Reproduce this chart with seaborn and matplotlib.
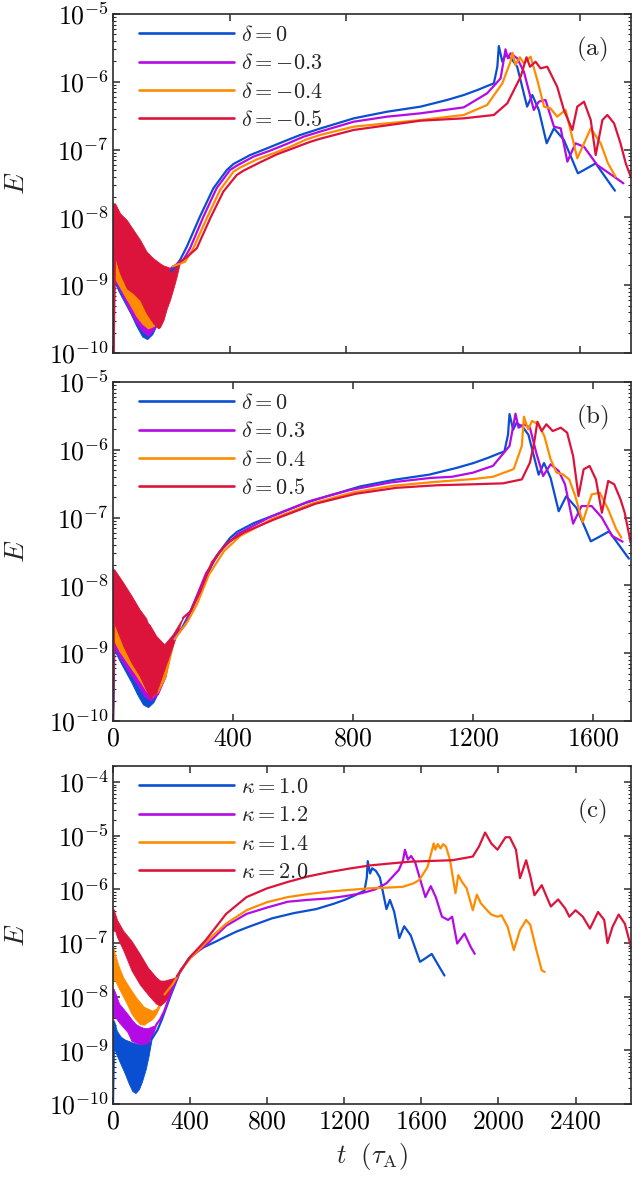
import numpy as np
import pandas as pd
import matplotlib
matplotlib.use("Agg")
import matplotlib.pyplot as plt
import seaborn as sns
from matplotlib.ticker import FixedLocator, FuncFormatter, LogLocator, NullFormatter

# ---------------- data ----------------
# shared reference case  (delta = 0, kappa = 1.0)
t_ref_band = [0, 5, 20, 40, 60, 80, 100, 117, 135, 150, 170, 185, 200]
hi_ref_band = [3.6e-9, 3.6e-9, 2.3e-9, 1.8e-9, 1.6e-9, 1.5e-9, 1.4e-9, 1.35e-9, 1.3e-9, 1.3e-9, 1.35e-9, 1.45e-9, 1.6e-9]
lo_ref_band = [5e-11, 1.1e-9, 8e-10, 5.5e-10, 3.8e-10, 2.5e-10, 1.75e-10, 1.6e-10, 1.9e-10, 2.6e-10, 4.5e-10, 8e-10, 1.6e-9]
t_ref = [200, 230, 253, 298, 344, 390, 413, 470, 527, 584, 641, 711, 825, 939, 1054, 1145, 1202, 1250, 1282, 1305,
         1317, 1322, 1334, 1345, 1365, 1385, 1419, 1437, 1459, 1486, 1511, 1545, 1593, 1614, 1654, 1694, 1720]
E_ref = [1.6e-9, 2.36e-9, 3.7e-9, 1.03e-8, 2.69e-8, 5.0e-8, 6.14e-8, 8.32e-8, 1.04e-7, 1.31e-7, 1.64e-7, 2.05e-7,
         2.89e-7, 3.62e-7, 4.30e-7, 5.40e-7, 6.38e-7, 7.6e-7, 8.67e-7, 9.48e-7, 1.67e-6, 3.37e-6, 1.98e-6, 2.48e-6,
         2.2e-6, 1.67e-6, 4.30e-7, 6.38e-7, 3.84e-7, 1.24e-7, 2.06e-7, 1.39e-7, 4.47e-8, 5.0e-8, 6.27e-8, 3.56e-8,
         2.48e-8]

# panel (a): delta = -0.3, -0.4, -0.5
t_am3_band = [0, 5, 20, 40, 60, 80, 100, 120, 140, 160, 180, 200]
hi_am3_band = [2.95e-9, 2.95e-9, 2.5e-9, 2.2e-9, 2.0e-9, 1.9e-9, 1.8e-9, 1.7e-9, 1.7e-9, 1.7e-9, 1.75e-9, 1.8e-9]
lo_am3_band = [1.2e-9, 1.2e-9, 9e-10, 6e-10, 4e-10, 2.8e-10, 2.1e-10, 1.8e-10, 2.2e-10, 4e-10, 8e-10, 1.8e-9]
t_am3 = [200, 241, 264, 310, 355, 401, 424, 481, 538, 595, 653, 711, 825, 939, 1054, 1202, 1282, 1328, 1339, 1345,
         1353, 1362, 1385, 1408, 1442, 1459, 1482, 1511, 1534, 1557, 1585, 1614, 1659, 1717, 1749]
E_am3 = [1.8e-9, 2.36e-9, 3.5e-9, 1.03e-8, 2.69e-8, 5.0e-8, 5.79e-8, 7.87e-8, 9.64e-8, 1.21e-7, 1.55e-7, 1.85e-7,
         2.58e-7, 3.06e-7, 3.43e-7, 4.20e-7, 6.76e-7, 1.12e-6, 2.10e-6, 3.01e-6, 2.22e-6, 2.63e-6, 2.22e-6, 1.41e-6,
         3.84e-7, 5.09e-7, 5.40e-7, 2.18e-7, 2.06e-7, 6.64e-8, 1.24e-7, 1.10e-7, 5.93e-8, 3.99e-8, 3.18e-8]

t_am4_band = [0, 5, 20, 40, 60, 80, 100, 120, 140, 160, 180, 205]
hi_am4_band = [2.5e-9, 2.5e-9, 2.2e-9, 2.0e-9, 1.9e-9, 1.8e-9, 1.7e-9, 1.6e-9, 1.6e-9, 1.6e-9, 1.7e-9, 1.9e-9]
lo_am4_band = [1.3e-9, 1.3e-9, 1.0e-9, 7e-10, 5e-10, 3.5e-10, 2.7e-10, 2.3e-10, 2.5e-10, 4.5e-10, 9e-10, 1.9e-9]
t_am4 = [205, 247, 275, 321, 367, 413, 435, 493, 550, 607, 664, 711, 825, 1054, 1202, 1282, 1334, 1362, 1369, 1379,
         1394, 1408, 1431, 1454, 1477, 1499, 1522, 1551, 1591, 1637, 1671, 1696, 1722]
E_am4 = [1.9e-9, 2.22e-9, 3.5e-9, 9.68e-9, 2.54e-8, 4.73e-8, 5.42e-8, 7.18e-8, 8.81e-8, 1.10e-7, 1.42e-7, 1.65e-7,
         2.18e-7, 2.73e-7, 3.24e-7, 4.55e-7, 9.48e-7, 1.98e-6, 2.69e-6, 1.77e-6, 2.30e-6, 1.87e-6, 2.35e-6, 1.06e-6,
         4.30e-7, 4.06e-7, 3.06e-7, 3.84e-7, 7.43e-8, 2.06e-7, 1.24e-7, 6.27e-8, 3.99e-8]

t_am5_band = [0, 2, 7, 24, 47, 70, 93, 115, 138, 155, 161, 173, 184, 195, 207, 218, 230]
hi_am5_band = [1.61e-8, 1.61e-8, 1.61e-8, 1.15e-8, 9.16e-9, 6.52e-9, 4.65e-9, 3.13e-9, 2.49e-9, 2.2e-9, 2.1e-9,
               1.95e-9, 1.88e-9, 1.8e-9, 1.77e-9, 2.0e-9, 2.22e-9]
lo_am5_band = [5e-11, 5e-11, 2.6e-9, 1.5e-9, 9e-10, 7.6e-10, 6.05e-10, 3.85e-10, 2.74e-10, 2.31e-10, 2.4e-10,
               3.07e-10, 4.5e-10, 6.05e-10, 9e-10, 1.34e-9, 2.22e-9]
t_am5 = [230, 253, 287, 333, 378, 424, 447, 504, 561, 618, 675, 711, 825, 1054, 1202, 1305, 1351, 1397, 1417, 1429,
         1448, 1465, 1488, 1522, 1545, 1574, 1591, 1614, 1637, 1654, 1677, 1694, 1717, 1739, 1757, 1774]
E_am5 = [2.22e-9, 2.6e-9, 3.5e-9, 9.68e-9, 2.40e-8, 4.22e-8, 4.89e-8, 6.49e-8, 8.5e-8, 1.05e-7, 1.3e-7, 1.45e-7,
         1.95e-7, 2.67e-7, 2.89e-7, 3.24e-7, 4.81e-7, 1.19e-6, 2.30e-6, 1.67e-6, 1.98e-6, 1.58e-6, 1.67e-6, 8.47e-7,
         3.84e-7, 1.95e-7, 4.30e-7, 5.09e-7, 2.73e-7, 8.32e-8, 2.73e-7, 3.24e-7, 2.44e-7, 1.24e-7, 6.27e-8, 3.99e-8]

# panel (b): delta = 0.3, 0.4, 0.5
t_bp3_band = [0, 5, 20, 50, 80, 105, 125, 150, 175, 200]
hi_bp3_band = [2.8e-9, 2.8e-9, 2.2e-9, 1.8e-9, 1.5e-9, 1.4e-9, 1.35e-9, 1.3e-9, 1.35e-9, 1.6e-9]
lo_bp3_band = [1.2e-9, 1.2e-9, 9e-10, 5.5e-10, 3.5e-10, 2.3e-10, 2.0e-10, 2.5e-10, 4.5e-10, 1.6e-9]
t_bp3 = [200, 240, 270, 310, 360, 415, 520, 655, 790, 925, 1060, 1130, 1200, 1267, 1322, 1342, 1352, 1370, 1390,
         1411, 1434, 1459, 1486, 1507, 1534, 1562, 1596, 1630, 1664, 1699]
E_bp3 = [1.6e-9, 2.6e-9, 5.5e-9, 1.5e-8, 3.3e-8, 5.7e-8, 1.0e-7, 1.75e-7, 2.55e-7, 3.3e-7, 3.85e-7, 4.0e-7, 4.6e-7,
         5.8e-7, 1.14e-6, 3.41e-6, 2.12e-6, 2.38e-6, 2.12e-6, 9.08e-7, 4.11e-7, 6.11e-7, 4.86e-7, 3.1e-7, 8.15e-8,
         1.48e-7, 1.48e-7, 9.98e-8, 5.36e-8, 4.42e-8]

t_bp4_band = [0, 5, 20, 50, 80, 110, 130, 150, 175, 205]
hi_bp4_band = [4.5e-9, 4.5e-9, 3.5e-9, 2.6e-9, 2.0e-9, 1.6e-9, 1.45e-9, 1.4e-9, 1.35e-9, 1.6e-9]
lo_bp4_band = [1.5e-9, 1.5e-9, 1.1e-9, 7e-10, 4.5e-10, 2.8e-10, 2.3e-10, 2.7e-10, 4.5e-10, 1.6e-9]
t_bp4 = [205, 250, 280, 320, 370, 425, 530, 665, 800, 935, 1070, 1200, 1267, 1336, 1363, 1370, 1384, 1397, 1418,
         1438, 1459, 1479, 1500, 1521, 1541, 1566, 1596, 1623, 1651, 1678, 1695]
E_bp4 = [1.6e-9, 3.0e-9, 5.3e-9, 1.45e-8, 3.2e-8, 5.4e-8, 9.5e-8, 1.62e-7, 2.35e-7, 2.95e-7, 3.35e-7, 3.7e-7, 4.0e-7,
         5.2e-7, 1.14e-6, 3.08e-6, 2.0e-6, 2.66e-6, 2.38e-6, 1.6e-6, 7.23e-7, 4.6e-7, 4.35e-7, 3.66e-7, 2.08e-7,
         8.6e-8, 2.2e-7, 2.33e-7, 1.32e-7, 6.71e-8, 5.06e-8]

t_bp5_band = [0, 4, 34, 62, 89, 110, 116, 123, 144, 171, 199, 226, 233]
hi_bp5_band = [1.73e-8, 1.73e-8, 1.1e-8, 7.0e-9, 4.4e-9, 3.3e-9, 2.8e-9, 2.6e-9, 1.8e-9, 1.35e-9, 1.9e-9, 3.0e-9, 3.3e-9]
lo_bp5_band = [5e-11, 2.8e-9, 1.28e-9, 7.2e-10, 4.6e-10, 2.9e-10, 2.6e-10, 2.2e-10, 2.6e-10, 5.8e-10, 1.28e-9, 2.8e-9, 3.3e-9]
t_bp5 = [233, 260, 290, 330, 380, 435, 540, 675, 810, 945, 1080, 1200, 1300, 1363, 1390, 1404, 1415, 1429, 1445,
         1466, 1493, 1514, 1534, 1552, 1569, 1589, 1610, 1630, 1651, 1671, 1692, 1706, 1726]
E_bp5 = [3.3e-9, 4.2e-9, 8.0e-9, 2.2e-8, 4.2e-8, 6.0e-8, 9.5e-8, 1.6e-7, 2.25e-7, 2.75e-7, 3.0e-7, 3.1e-7, 3.2e-7,
         3.66e-7, 6.46e-7, 1.27e-6, 2.6e-6, 1.89e-6, 2.38e-6, 1.89e-6, 2.12e-6, 1.79e-6, 8.1e-7, 2.08e-7, 5.15e-7,
         5.77e-7, 3.66e-7, 1.18e-7, 3.47e-7, 3.1e-7, 1.86e-7, 1.18e-7, 4.27e-8]

# panel (c): kappa = 1.2, 1.4, 2.0
t_k12_band = [0, 3, 11, 32, 53, 75, 96, 117, 139, 160, 181, 203, 224]
hi_k12_band = [1.41e-8, 1.41e-8, 1.2e-8, 7.4e-9, 6e-9, 4.8e-9, 3.8e-9, 3.1e-9, 2.8e-9, 2.6e-9, 2.6e-9, 2.8e-9, 3.0e-9]
lo_k12_band = [4.2e-9, 4.2e-9, 4.2e-9, 3.3e-9, 2.7e-9, 2.2e-9, 1.5e-9, 1.4e-9, 1.3e-9, 1.3e-9, 1.4e-9, 1.8e-9, 3.0e-9]
t_k12 = [224, 245, 267, 309, 352, 400, 445, 500, 587, 693, 800, 907, 1013, 1120, 1205, 1291, 1360, 1419, 1483, 1505,
         1515, 1530, 1547, 1568, 1600, 1621, 1649, 1675, 1707, 1739, 1760, 1786, 1824, 1856, 1877]
E_k12 = [3.0e-9, 3.8e-9, 5.5e-9, 1.45e-8, 3.2e-8, 5.3e-8, 7.2e-8, 1.05e-7, 2.1e-7, 3.5e-7, 4.6e-7, 5.9e-7, 6.4e-7,
         6.8e-7, 7.5e-7, 8.5e-7, 1.0e-6, 1.3e-6, 2.3e-6, 3.5e-6, 5.5e-6, 3.6e-6, 4.2e-6, 3.2e-6, 1.3e-6, 7.2e-7,
         1.15e-6, 7.2e-7, 3.1e-7, 2.7e-7, 3.1e-7, 9.8e-8, 1.5e-7, 8.5e-8, 6.3e-8]

t_k14_band = [0, 3, 11, 32, 53, 75, 96, 117, 139, 160, 181, 203, 224, 245, 267]
hi_k14_band = [7.9e-8, 7.9e-8, 6e-8, 3.5e-8, 2.3e-8, 1.7e-8, 1.3e-8, 1.0e-8, 8e-9, 6.5e-9, 6e-9, 5.5e-9, 6e-9, 8e-9, 1.1e-8]
lo_k14_band = [2.0e-8, 2.0e-8, 2.0e-8, 1.4e-8, 1.0e-8, 7e-9, 4.8e-9, 3.8e-9, 3.1e-9, 3.0e-9, 3.4e-9, 3.8e-9, 4.8e-9, 7e-9, 1.1e-8]
t_k14 = [267, 309, 352, 400, 437, 500, 587, 693, 800, 907, 1013, 1120, 1227, 1333, 1420, 1504, 1560, 1589, 1632,
         1664, 1672, 1685, 1700, 1713, 1728, 1749, 1777, 1792, 1810, 1835, 1867, 1888, 1909, 1941, 1963, 1995,
         2016, 2048, 2080, 2112, 2144, 2165, 2197, 2225, 2240]
E_k14 = [1.1e-8, 1.7e-8, 3.1e-8, 5.2e-8, 7.0e-8, 1.2e-7, 2.3e-7, 4.1e-7, 5.8e-7, 7.2e-7, 8.2e-7, 9.1e-7, 9.8e-7,
         1.05e-6, 1.08e-6, 1.12e-6, 1.3e-6, 1.5e-6, 2.6e-6, 7.2e-6, 5.5e-6, 7.0e-6, 5.8e-6, 7.0e-6, 6.3e-6, 3.5e-6,
         8.5e-7, 1.85e-6, 1.4e-6, 1.05e-6, 4.1e-7, 8.0e-7, 5.5e-7, 4.1e-7, 3.4e-7, 3.1e-7, 3.3e-7, 2.0e-7, 7.4e-8,
         1.75e-7, 2.7e-7, 2.2e-7, 7.4e-8, 3.1e-8, 2.9e-8]

t_k20_band = [0, 3, 11, 21, 53, 96, 139, 181, 224, 245, 267, 288, 309, 331]
hi_k20_band = [4.3e-7, 4.3e-7, 3.5e-7, 2.7e-7, 1.7e-7, 1.1e-7, 6.3e-8, 3.5e-8, 2.3e-8, 2.0e-8, 2.0e-8, 2.1e-8, 2.2e-8, 2.4e-8]
lo_k20_band = [1.7e-7, 1.7e-7, 1.7e-7, 1.3e-7, 7.4e-8, 3.1e-8, 1.7e-8, 1.1e-8, 7.4e-9, 6.9e-9, 8e-9, 1.0e-8, 1.7e-8, 2.4e-8]
t_k20 = [331, 400, 480, 587, 693, 800, 907, 1013, 1120, 1227, 1333, 1440, 1547, 1653, 1760, 1867, 1899, 1931, 1963,
         1995, 2037, 2059, 2091, 2112, 2144, 2165, 2187, 2225, 2251, 2272, 2310, 2347, 2368, 2400, 2438, 2475, 2517,
         2549, 2566, 2592, 2624, 2656, 2688]
E_k20 = [2.4e-8, 5.5e-8, 1.12e-7, 3.5e-7, 7.2e-7, 1.05e-6, 1.38e-6, 1.75e-6, 2.1e-6, 2.45e-6, 2.8e-6, 3.05e-6,
         3.3e-6, 3.4e-6, 3.5e-6, 4.1e-6, 6.3e-6, 1.15e-5, 7.2e-6, 5.5e-6, 9.4e-6, 9.4e-6, 5.5e-6, 1.62e-6, 3.5e-6,
         1.8e-6, 7.8e-7, 1.2e-6, 7.2e-7, 4.8e-7, 6.5e-7, 4.4e-7, 3.1e-7, 4.1e-7, 3.1e-7, 1.86e-7, 3.8e-7, 2.7e-7,
         1.0e-7, 2.0e-7, 3.4e-7, 2.3e-7, 8.5e-8]

labels_a = [r"$\delta=0$", r"$\delta=-0.3$", r"$\delta=-0.4$", r"$\delta=-0.5$"]
labels_b = [r"$\delta=0$", r"$\delta=0.3$", r"$\delta=0.4$", r"$\delta=0.5$"]
labels_c = [r"$\kappa=1.0$", r"$\kappa=1.2$", r"$\kappa=1.4$", r"$\kappa=2.0$"]
panel_tags = ["(a)", "(b)", "(c)"]
x_ticks_ab = [0, 400, 800, 1200, 1600]
x_ticks_c = [0, 400, 800, 1200, 1600, 2000, 2400]

colors = ["#0a4fd2", "#b40ae6", "#ff8c00", "#dc143c"]

# ---------------- style ----------------
sns.set_theme(style="ticks")
plt.rcParams["mathtext.fontset"] = "cm"
plt.rcParams["font.family"] = ["DejaVu Serif"]
plt.rcParams["axes.edgecolor"] = "#2b2b2b"
plt.rcParams["axes.linewidth"] = 1.2

fig = plt.figure(figsize=(6.44, 11.81), dpi=100)
L, W = 113 / 644, 518 / 644
ax_a = fig.add_axes([L, 1 - 353 / 1181, W, 339 / 1181])
ax_b = fig.add_axes([L, 1 - 721 / 1181, W, 339 / 1181])
ax_c = fig.add_axes([L, 1 - 1104 / 1181, W, 338 / 1181])

panels = [
    (ax_a, labels_a, [
        (t_ref_band, lo_ref_band, hi_ref_band, t_ref, E_ref),
        (t_am3_band, lo_am3_band, hi_am3_band, t_am3, E_am3),
        (t_am4_band, lo_am4_band, hi_am4_band, t_am4, E_am4),
        (t_am5_band, lo_am5_band, hi_am5_band, t_am5, E_am5)], 1775, (1e-10, 1e-5), x_ticks_ab),
    (ax_b, labels_b, [
        (t_ref_band, lo_ref_band, hi_ref_band, t_ref, E_ref),
        (t_bp3_band, lo_bp3_band, hi_bp3_band, t_bp3, E_bp3),
        (t_bp4_band, lo_bp4_band, hi_bp4_band, t_bp4, E_bp4),
        (t_bp5_band, lo_bp5_band, hi_bp5_band, t_bp5, E_bp5)], 1727, (1e-10, 1e-5), x_ticks_ab),
    (ax_c, labels_c, [
        (t_ref_band, lo_ref_band, hi_ref_band, t_ref, E_ref),
        (t_k12_band, lo_k12_band, hi_k12_band, t_k12, E_k12),
        (t_k14_band, lo_k14_band, hi_k14_band, t_k14, E_k14),
        (t_k20_band, lo_k20_band, hi_k20_band, t_k20, E_k20)], 2688, (1e-10, 2e-4), x_ticks_c),
]

ytick_fmt = FuncFormatter(lambda v, p: r"$10^{%d}$" % int(round(np.log10(v))))
xtick_fmt = FuncFormatter(lambda v, p: r"$%d$" % int(v))

for i, (ax, labels, series, xmax, ylim, xt) in enumerate(panels):
    for (tb, lo, hi, tl, El), lab, col in zip(series, labels, colors):
        ax.fill_between(tb, lo, hi, color=col, lw=0.6, edgecolor=col)
        df = pd.DataFrame({"t": tl, "E": El})
        sns.lineplot(data=df, x="t", y="E", ax=ax, color=col, lw=1.6, sort=False,
                     estimator=None, label=lab)
    ax.set_yscale("log")
    ax.set_xlim(0, xmax)
    ax.set_ylim(*ylim)
    dec = np.arange(int(np.log10(ylim[0])), int(np.floor(np.log10(ylim[1]))) + 1)
    ax.yaxis.set_major_locator(FixedLocator([10.0 ** d for d in dec]))
    ax.yaxis.set_major_formatter(ytick_fmt)
    ax.yaxis.set_minor_locator(LogLocator(base=10, subs=np.arange(2, 10), numticks=30))
    ax.yaxis.set_minor_formatter(NullFormatter())
    ax.xaxis.set_major_locator(FixedLocator(xt))
    ax.xaxis.set_major_formatter(xtick_fmt)
    ax.tick_params(which="both", direction="in", top=True, right=True, labelsize=18.5, colors="#2b2b2b",
                   labelcolor="black")
    ax.tick_params(which="major", length=5, width=1.1, pad=3)
    ax.tick_params(which="minor", length=2.5, width=0.8)
    if i == 0:
        ax.tick_params(labelbottom=False)
    ax.set_xlabel("")
    ax.set_ylabel(r"$E$", fontsize=20)
    ax.yaxis.set_label_coords(-0.16, 0.5)
    leg = ax.legend(loc="upper left", bbox_to_anchor=(0.05, 0.97), frameon=False, fontsize=16,
                    handlelength=4.3, labelspacing=0.28, handletextpad=0.3, borderpad=0, borderaxespad=0)
    for h in leg.get_lines():
        h.set_linewidth(1.9)
    ax.text(0.925, 0.895 if i < 2 else 0.865, r"$\mathrm{%s}$" % panel_tags[i], transform=ax.transAxes,
            fontsize=18, ha="center", va="center")

ax_c.set_xlabel(r"$t\ \ (\tau_{\mathrm{A}})$", fontsize=19, labelpad=6)

fig.savefig("out.png", dpi=100)
